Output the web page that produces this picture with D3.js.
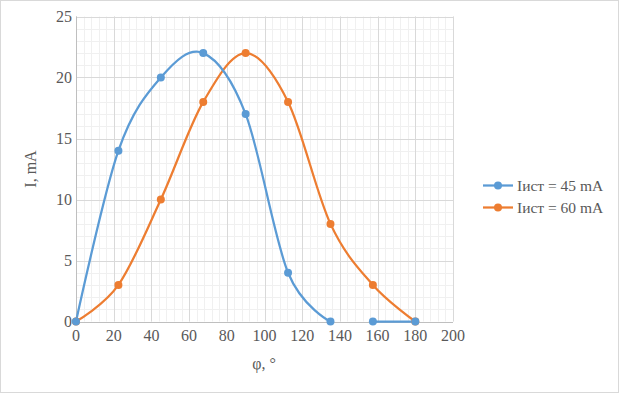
<!DOCTYPE html>
<html>
<head>
<meta charset="utf-8">
<script src="https://cdn.jsdelivr.net/npm/d3@7/dist/d3.min.js"></script>
<style>
  body { margin: 0; background: #fff; }
  text { font-family: "Liberation Serif", "DejaVu Serif", serif; fill: #595959; }
</style>
</head>
<body>
<div id="chart"></div>
<script>
// data
var angles = [0, 22.5, 45, 67.5, 90, 112.5, 135, 157.5, 180];
var current45 = [0, 14, 20, 22, 17, 4, 0, 0, 0];
var current60 = [0, 3, 10, 18, 22, 18, 8, 3, 0];
var breakAfter45 = 6; // blue line is not drawn between 135 and 157.5
var seriesNames = ["Iист = 45 mA", "Iист = 60 mA"];
var xTicks = [0, 20, 40, 60, 80, 100, 120, 140, 160, 180, 200];
var yTicks = [0, 5, 10, 15, 20, 25];

var w = 619, h = 393;
var colors = ["#5b9bd5", "#ed7d31"];

var svg = d3.select("#chart").append("svg")
  .attr("width", w)
  .attr("height", h);

// outer border
svg.append("rect")
  .attr("x", 0.5).attr("y", 0.5)
  .attr("width", w - 1).attr("height", h - 1)
  .attr("fill", "#fff")
  .attr("stroke", "#d9d9d9");

var x = d3.scaleLinear().domain([0, 200]).range([76, 453]);
var y = d3.scaleLinear().domain([0, 25]).range([321.5, 16.5]);

// minor grid
svg.append("g").selectAll("line")
  .data(d3.range(0, 201, 4))
  .enter().append("line")
  .attr("x1", function(d) { return Math.round(x(d)) + 0.5; })
  .attr("x2", function(d) { return Math.round(x(d)) + 0.5; })
  .attr("y1", y(0)).attr("y2", y(25))
  .attr("stroke", "#f0f0f0");
svg.append("g").selectAll("line")
  .data(d3.range(0, 26, 1))
  .enter().append("line")
  .attr("y1", function(d) { return Math.round(y(d)) + 0.5; })
  .attr("y2", function(d) { return Math.round(y(d)) + 0.5; })
  .attr("x1", x(0)).attr("x2", x(200))
  .attr("stroke", "#f0f0f0");

// major grid
svg.append("g").selectAll("line")
  .data(xTicks)
  .enter().append("line")
  .attr("x1", function(d) { return Math.round(x(d)) + 0.5; })
  .attr("x2", function(d) { return Math.round(x(d)) + 0.5; })
  .attr("y1", y(0)).attr("y2", y(25))
  .attr("stroke", "#d9d9d9");
svg.append("g").selectAll("line")
  .data(yTicks)
  .enter().append("line")
  .attr("y1", function(d) { return Math.round(y(d)) + 0.5; })
  .attr("y2", function(d) { return Math.round(y(d)) + 0.5; })
  .attr("x1", x(0)).attr("x2", x(200))
  .attr("stroke", "#d9d9d9");

// axes lines
svg.append("line")
  .attr("x1", x(0)).attr("x2", x(200))
  .attr("y1", Math.round(y(0)) + 0.5).attr("y2", Math.round(y(0)) + 0.5)
  .attr("stroke", "#bfbfbf");
svg.append("line")
  .attr("x1", Math.round(x(0)) + 0.5).attr("x2", Math.round(x(0)) + 0.5)
  .attr("y1", y(0)).attr("y2", y(25))
  .attr("stroke", "#bfbfbf");

// tick labels
svg.append("g").selectAll("text")
  .data(xTicks)
  .enter().append("text")
  .text(function(d) { return d; })
  .attr("x", function(d) { return x(d); })
  .attr("y", y(0) + 19)
  .attr("text-anchor", "middle")
  .attr("font-size", "16px");
svg.append("g").selectAll("text")
  .data(yTicks)
  .enter().append("text")
  .text(function(d) { return d; })
  .attr("x", x(0) - 4)
  .attr("y", function(d) { return y(d) + 5.5; })
  .attr("text-anchor", "end")
  .attr("font-size", "16px");

// axis titles
svg.append("text")
  .text("φ, °")
  .attr("x", 264).attr("y", 369)
  .attr("text-anchor", "middle")
  .attr("font-size", "16px");
svg.append("text")
  .text("I, mA")
  .attr("transform", "translate(36,169) rotate(-90)")
  .attr("text-anchor", "middle")
  .attr("font-size", "16px");

// series
var line = d3.line()
  .x(function(d) { return x(d[0]); })
  .y(function(d) { return y(d[1]); })
  .curve(d3.curveCardinal.tension(0));

function pts(vals) {
  return angles.map(function(a, i) { return [a, vals[i]]; });
}

var p45 = pts(current45);
var p60 = pts(current60);
var segments = [
  { pts: p60, c: 1 },
  { pts: p45.slice(0, breakAfter45 + 1), c: 0 },
  { pts: p45.slice(breakAfter45 + 1), c: 0 }
];

segments.forEach(function(s) {
  svg.append("path")
    .attr("d", line(s.pts))
    .attr("fill", "none")
    .attr("stroke", colors[s.c])
    .attr("stroke-width", 2.25)
    .attr("stroke-linejoin", "round")
    .attr("stroke-linecap", "round");
});

[[p60, 1], [p45, 0]].forEach(function(s) {
  svg.append("g").selectAll("circle")
    .data(s[0])
    .enter().append("circle")
    .attr("cx", function(d) { return x(d[0]); })
    .attr("cy", function(d) { return y(d[1]); })
    .attr("r", 4)
    .attr("fill", colors[s[1]]);
});

// legend
var legend = svg.append("g");
seriesNames.forEach(function(name, i) {
  var ly = 185.5 + i * 22;
  legend.append("line")
    .attr("x1", 483).attr("x2", 513)
    .attr("y1", ly).attr("y2", ly)
    .attr("stroke", colors[i])
    .attr("stroke-width", 2.25);
  legend.append("circle")
    .attr("cx", 498).attr("cy", ly).attr("r", 4)
    .attr("fill", colors[i]);
  legend.append("text")
    .text(name)
    .attr("x", 517).attr("y", ly + 5)
    .attr("font-size", "15.5px");
});
</script>
</body>
</html>
